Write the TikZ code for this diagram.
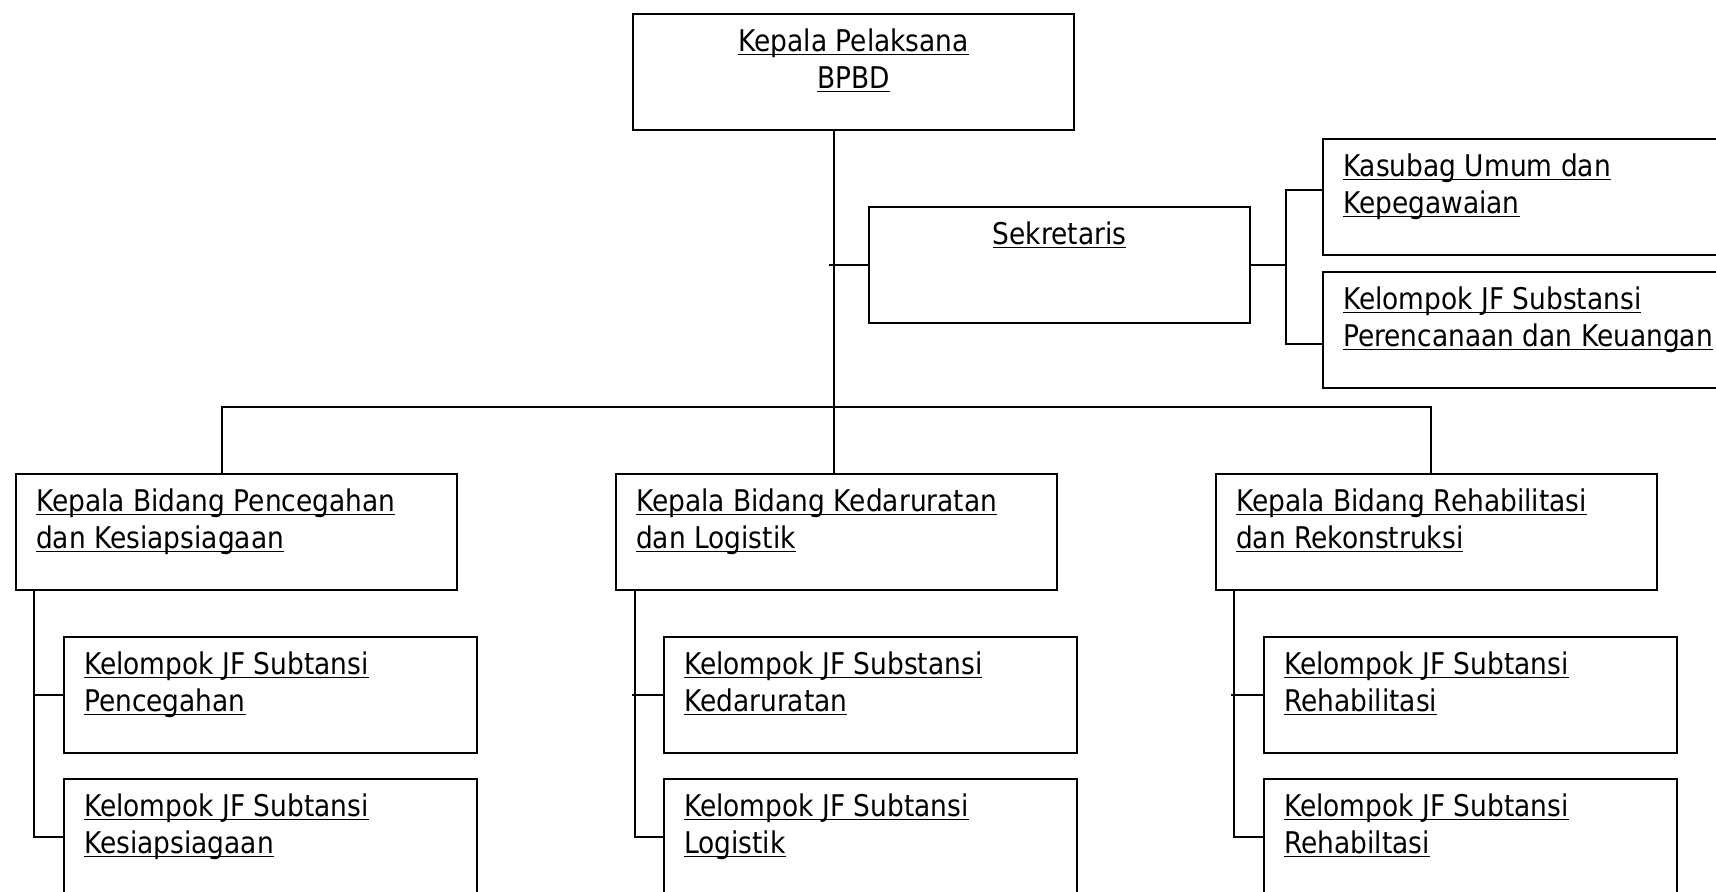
\documentclass[tikz,border=0pt]{standalone}
\usepackage{fontspec}
\setmainfont{DejaVu Sans}[FakeStretch=0.885]
\usepackage{tikz}

\newcommand{\lnunder}[1]{\leavevmode\setbox0\hbox{#1}\rlap{\rule[-1pt]{\wd0}{0.45pt}}\box0}

\tikzset{
  basebox/.style={draw, rectangle, line width=0.6pt, anchor=north west,
    inner xsep=0.2cm, inner ysep=0.15cm, minimum height=1.16cm,
    font=\fontsize{8.5}{10.5}\selectfont,
    execute at end node={\end{minipage}}},
  orgbox/.style={basebox,
    execute at begin node={\begin{minipage}[c][0.86cm][t]{#1}\raggedright}},
  orgbox/.default=4.01cm,
  headbox/.style={basebox,
    execute at begin node={\begin{minipage}[c][0.86cm][t]{#1}\centering}},
  link/.style={draw, line width=0.6pt}
}

\begin{document}
\begin{tikzpicture}[x=0.01cm, y=-0.01cm]
        \useasboundingbox (0,0) rectangle (1716,891);

        \node[headbox=4.01cm] (kepala) at (632,13) {\lnunder{Kepala Pelaksana}\\\lnunder{BPBD}};
        \node[headbox=3.41cm] (sekretaris) at (868,206) {\lnunder{Sekretaris}};

        \begin{scope}[every node/.style={orgbox}]
          \node (kasubag)  at (1322,138) {\lnunder{Kasubag Umum dan}\\\lnunder{Kepegawaian}};
          \node (jfrenkeu) at (1322,271) {\lnunder{Kelompok JF Substansi}\\\lnunder{Perencanaan dan Keuangan}};

          \node (kbcegah)    at (15,473)   {\lnunder{Kepala Bidang Pencegahan}\\\lnunder{dan Kesiapsiagaan}};
          \node (kbdarurat)  at (615,473)  {\lnunder{Kepala Bidang Kedaruratan}\\\lnunder{dan Logistik}};
          \node (kbrehab)    at (1215,473) {\lnunder{Kepala Bidang Rehabilitasi}\\\lnunder{dan Rekonstruksi}};
        \end{scope}

        \begin{scope}[every node/.style={orgbox=3.73cm}]
          \node (jfcegah)    at (63,636)   {\lnunder{Kelompok JF Subtansi}\\\lnunder{Pencegahan}};
          \node (jfsiaga)    at (63,778)   {\lnunder{Kelompok JF Subtansi}\\\lnunder{Kesiapsiagaan}};
          \node (jfdarurat)  at (663,636)  {\lnunder{Kelompok JF Substansi}\\\lnunder{Kedaruratan}};
          \node (jflogistik) at (663,778)  {\lnunder{Kelompok JF Subtansi}\\\lnunder{Logistik}};
          \node (jfrehab)    at (1263,636) {\lnunder{Kelompok JF Subtansi}\\\lnunder{Rehabilitasi}};
          \node (jfrehab2)   at (1263,778) {\lnunder{Kelompok JF Subtansi}\\\lnunder{Rehabiltasi}};
        \end{scope}

        % trunk and bus
        \coordinate (trunk) at (834,407);
        \coordinate (busL)  at (222,407);
        \coordinate (busR)  at (1431,407);
        \path[link] (trunk |- kepala.south) -- (trunk |- kbdarurat.north);
        \path[link] (busL |- kbcegah.north) -- (busL) -- (busR) -- (busR |- kbrehab.north);

        % sekretaris
        \path[link] ([xshift=-0.05cm]trunk |- sekretaris.west) -- (sekretaris.west);
        \path[link] (sekretaris.east) -- ++(35,0) coordinate (sekbrk);
        \path[link] ([yshift=0.07cm]kasubag.west) -| (sekbrk) |- ([yshift=-0.14cm]jfrenkeu.west);

        % bidang
        \coordinate (barcegah)   at ([xshift=0.19cm]kbcegah.south west);
        \coordinate (bardarurat) at ([xshift=0.2cm]kbdarurat.south west);
        \coordinate (barrehab)   at ([xshift=0.19cm]kbrehab.south west);
        \path[link] (barcegah) |- (jfsiaga.west);
        \path[link] (barcegah |- jfcegah.west) -- (jfcegah.west);
        \path[link] (bardarurat) |- (jflogistik.west);
        \path[link] ([xshift=-0.03cm]bardarurat |- jfdarurat.west) -- (jfdarurat.west);
        \path[link] (barrehab) |- (jfrehab2.west);
        \path[link] ([xshift=-0.03cm]barrehab |- jfrehab.west) -- (jfrehab.west);

      \end{tikzpicture}
\end{document}
